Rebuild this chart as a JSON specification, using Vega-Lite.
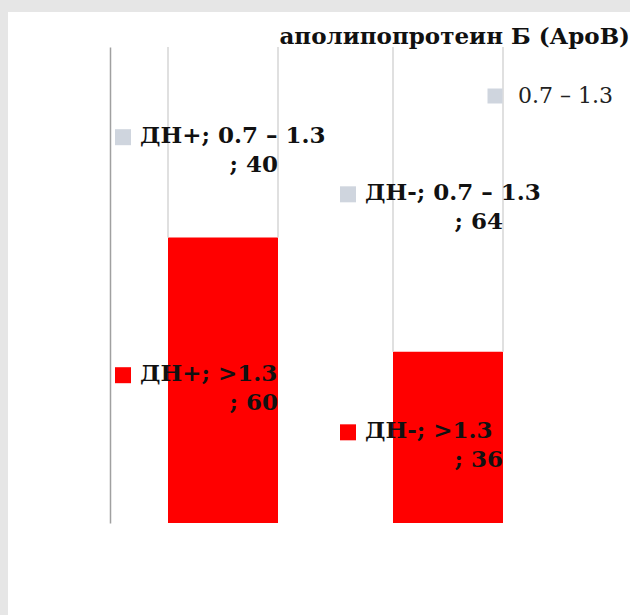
{
  "$schema": "https://vega.github.io/schema/vega-lite/v6.json",
  "width": 622,
  "height": 603,
  "autosize": {"type": "none"},
  "padding": {"left": 8, "top": 12, "right": 0, "bottom": 0},
  "background": "#e6e6e6",
  "config": {
    "view": {"fill": "white", "stroke": null},
    "font": "DejaVu Serif"
  },
  "title": {
    "text": "аполипопротеин  Б (АроВ)",
    "anchor": "end",
    "frame": "group",
    "font": "DejaVu Serif",
    "fontSize": 23,
    "fontWeight": "bold",
    "color": "#111111",
    "offset": -55,
    "baseline": "alphabetic"
  },
  "data": {
    "values": [
      {"group": "ДН+", "cat": ">1.3", "value": 60, "ord": 1, "l1": "ДН+; >1.3", "l2": "; 60"},
      {"group": "ДН+", "cat": "0.7 – 1.3", "value": 40, "ord": 2, "l1": "ДН+;  0.7 – 1.3", "l2": "; 40"},
      {"group": "ДН-", "cat": ">1.3", "value": 36, "ord": 1, "l1": "ДН-; >1.3", "l2": "; 36"},
      {"group": "ДН-", "cat": "0.7 – 1.3", "value": 64, "ord": 2, "l1": "ДН-;  0.7 – 1.3", "l2": "; 64"}
    ]
  },
  "transform": [
    {"stack": "value", "groupby": ["group"], "sort": [{"field": "ord", "order": "ascending"}], "as": ["y0", "y1"]},
    {"calculate": "(datum.y0 + datum.y1) / 2", "as": "mid"}
  ],
  "layer": [
    {
      "transform": [{"filter": "datum.cat == '>1.3'"}],
      "mark": {"type": "bar", "color": "#ff0000"},
      "encoding": {
        "x": {"field": "group", "type": "nominal", "sort": ["ДН+", "ДН-"], "axis": null,
              "scale": {"range": [102, 553], "paddingInner": 0.5111, "paddingOuter": 0.2578}},
        "y": {"field": "y1", "type": "quantitative",
              "scale": {"domain": [0, 100], "range": [511, 35], "nice": false, "zero": false},
              "axis": {"title": null, "labels": false, "ticks": false, "grid": false, "domainColor": "#a0a0a0", "domainWidth": 1.5, "offset": -102}},
        "y2": {"field": "y0"}
      }
    },
    {
      "transform": [{"filter": "datum.cat == '0.7 – 1.3'"}],
      "mark": {"type": "rule", "xOffset": -55, "color": "#d6d6d6", "strokeWidth": 1.5},
      "encoding": {
        "x": {"field": "group", "type": "nominal", "sort": ["ДН+", "ДН-"], "axis": null},
        "y": {"field": "y1", "type": "quantitative", "axis": {"title": null, "labels": false, "ticks": false, "grid": false, "domainColor": "#a0a0a0", "domainWidth": 1.5, "offset": -102}},
        "y2": {"field": "y0"}
      }
    },
    {
      "transform": [{"filter": "datum.cat == '0.7 – 1.3'"}],
      "mark": {"type": "rule", "xOffset": 55, "color": "#d6d6d6", "strokeWidth": 1.5},
      "encoding": {
        "x": {"field": "group", "type": "nominal", "sort": ["ДН+", "ДН-"], "axis": null},
        "y": {"field": "y1", "type": "quantitative", "axis": {"title": null, "labels": false, "ticks": false, "grid": false, "domainColor": "#a0a0a0", "domainWidth": 1.5, "offset": -102}},
        "y2": {"field": "y0"}
      }
    },
    {
      "mark": {"type": "square", "xOffset": -100, "yOffset": -5, "size": 256, "opacity": 1, "filled": true},
      "encoding": {
        "x": {"field": "group", "type": "nominal", "sort": ["ДН+", "ДН-"], "axis": null},
        "y": {"field": "mid", "type": "quantitative", "axis": {"title": null, "labels": false, "ticks": false, "grid": false, "domainColor": "#a0a0a0", "domainWidth": 1.5, "offset": -102}},
        "color": {"field": "cat", "type": "nominal",
                 "scale": {"domain": ["0.7 – 1.3", ">1.3"], "range": ["#cfd5de", "#ff0000"]},
                 "legend": {"values": ["0.7 – 1.3"], "orient": "none", "legendX": 476, "legendY": 73, "title": null, "padding": 0,
                            "symbolType": "square", "symbolSize": 225, "symbolStrokeWidth": 0,
                            "labelFont": "DejaVu Serif", "labelFontSize": 22, "labelColor": "#222222", "labelOffset": 12}}
      }
    },
    {
      "mark": {"type": "text", "align": "left", "baseline": "alphabetic", "dx": -83, "dy": 1,
               "font": "DejaVu Serif", "fontSize": 23, "fontWeight": "bold", "color": "#111111"},
      "encoding": {
        "x": {"field": "group", "type": "nominal", "sort": ["ДН+", "ДН-"], "axis": null},
        "y": {"field": "mid", "type": "quantitative", "axis": {"title": null, "labels": false, "ticks": false, "grid": false, "domainColor": "#a0a0a0", "domainWidth": 1.5, "offset": -102}},
        "text": {"field": "l1"}
      }
    },
    {
      "mark": {"type": "text", "align": "right", "baseline": "alphabetic", "dx": 55, "dy": 30,
               "font": "DejaVu Serif", "fontSize": 23, "fontWeight": "bold", "color": "#111111"},
      "encoding": {
        "x": {"field": "group", "type": "nominal", "sort": ["ДН+", "ДН-"], "axis": null},
        "y": {"field": "mid", "type": "quantitative", "axis": {"title": null, "labels": false, "ticks": false, "grid": false, "domainColor": "#a0a0a0", "domainWidth": 1.5, "offset": -102}},
        "text": {"field": "l2"}
      }
    }
  ]
}
